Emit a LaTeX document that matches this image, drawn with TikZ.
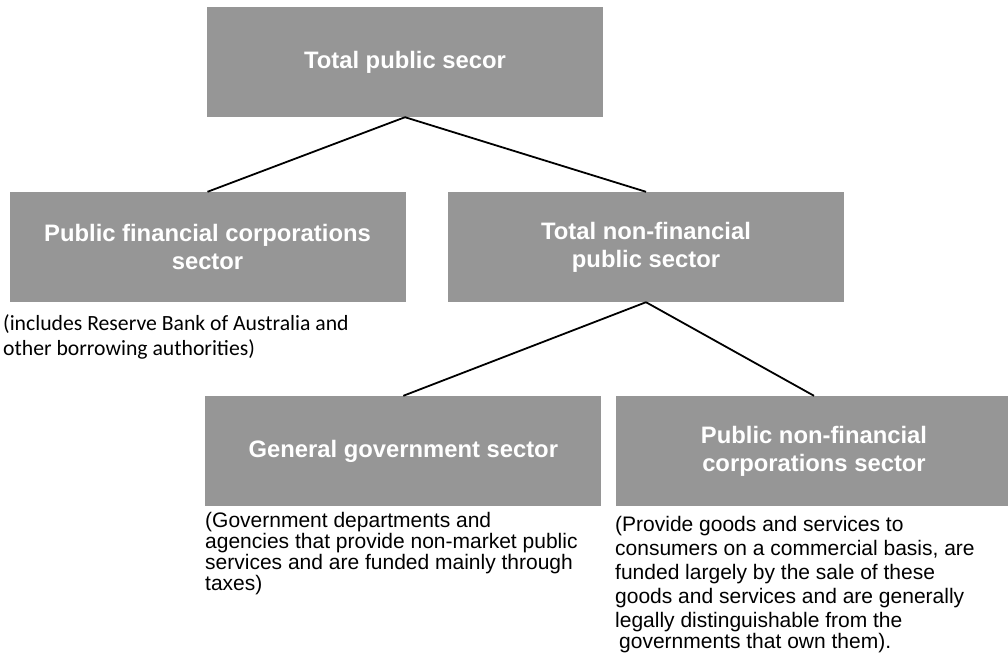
\documentclass[tikz,border=0pt]{standalone}
\usepackage{fontspec}
\setmainfont{Liberation Sans}
\newfontfamily\calfont{Carlito}
\definecolor{boxgray}{RGB}{150,150,150}
\begin{document}
\begin{tikzpicture}[x=1pt, y=-1pt,
        sector/.style={fill=boxgray, text=white, align=center, inner sep=0pt,
            minimum width=396pt, minimum height=110pt,
            font=\fontsize{23.8}{28}\selectfont\bfseries},
        note/.style={anchor=base west, align=left, inner sep=0pt,
            font=\fontsize{21}{24}\selectfont},
        link/.style={line width=1.8pt}]
    \useasboundingbox (0,0) rectangle (1008,655);
    \node[sector] (total) at (405,62) {Total public secor};
    \node[sector] (pfc) at (207.5,247) {Public financial corporations\\sector};
    \node[sector] (nfps) at (646,247) {Total non-financial\\public sector};
    \node[sector] (gg) at (403.3,451) {General government sector};
    \node[sector] (pnfc) at (814,451) {Public non-financial\\corporations sector};
    \foreach \a/\b in {total/pfc, total/nfps, nfps/gg, nfps/pnfc}
        {
            \draw[link](\a.south)--(\b.north);
        }
    \node[note, font=\calfont\fontsize{21.7}{24.5}\selectfont] (pfcnote) at (3,355)
        {(includes Reserve Bank of Australia and\\other borrowing authorities)};
    \node[note, font=\fontsize{21}{20.7}\selectfont] (ggnote) at (205,590)
        {(Government departments and\\agencies that provide non-market public\\services and are funded mainly through\\taxes)};
    \node[note] (pnfcnote) at (615,648)
        {(Provide goods and services to\\consumers on a commercial basis, are\\funded largely by the sale of these\\goods and services and are generally\\legally distinguishable from the\\[-3pt]\hspace*{4pt}governments that own them).};
\end{tikzpicture}
\end{document}
